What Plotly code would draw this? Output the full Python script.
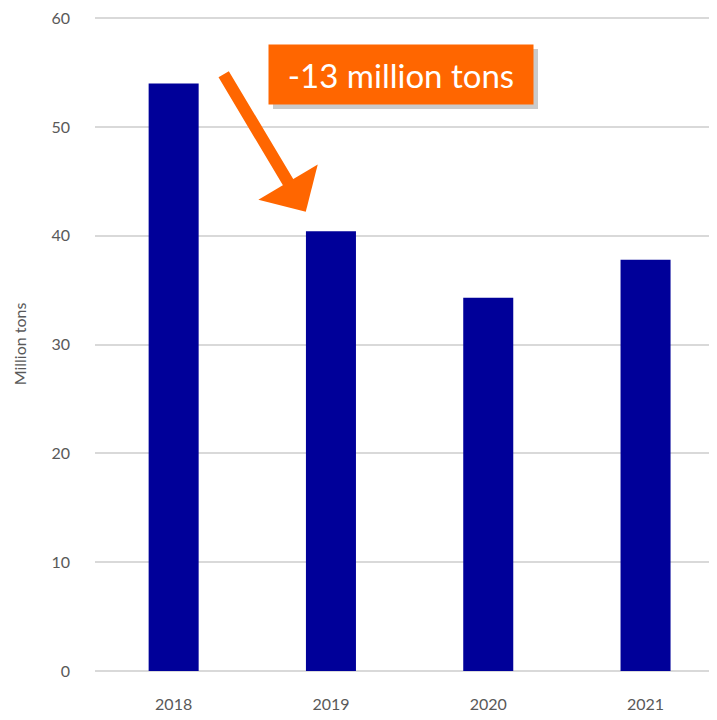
import plotly.graph_objects as go

years = ["2018", "2019", "2020", "2021"]
values = [54.0, 40.4, 34.3, 37.8]
y_ticks = [0, 10, 20, 30, 40, 50, 60]

OFF = 8  # page body margin in the browser
W, H = 717 - OFF, 720 - OFF
ML, MR, MT, MB = 95 - OFF, 0, 17 - OFF, 49
PW, PH = W - ML - MR, H - MT - MB
CAT_PX = 157.3
x_range = [-0.5, -0.5 + PW / CAT_PX]
Y_MAX = 60.1


def px_to_paper(px, py):
    px -= OFF
    py -= OFF
    return (px - ML) / PW, (H - MB - py) / PH


fig = go.Figure()
fig.add_trace(go.Bar(
    x=years, y=values, marker=dict(color="#000099", line=dict(width=0)),
    width=0.318,
))

# label box shadow
sx0, sy0 = px_to_paper(273, 49)
sx1, sy1 = px_to_paper(538, 109)
fig.add_shape(type="rect", xref="paper", yref="paper", x0=sx0, y0=sy0, x1=sx1, y1=sy1,
              fillcolor="rgba(150,150,150,0.5)", line=dict(width=0), layer="above")

bx, by = px_to_paper(401, 74.5)
fig.add_annotation(
    xref="paper", yref="paper", x=bx, y=by, xanchor="center", yanchor="middle",
    text="-13 million tons", showarrow=False, bgcolor="#FF6600",
    width=264, height=59, borderpad=0,
    font=dict(family="Lato, Noto Sans, sans-serif", size=33, color="white"),
)

# arrow
fig.add_annotation(
    x=0.84, y=42.2, xref="x", yref="y", text="", showarrow=True,
    ax=-83, ay=-139, arrowcolor="#FF6600", arrowwidth=12, arrowhead=1,
    arrowsize=0.96, standoff=0,
)

fig.update_layout(
    width=W, height=H, margin=dict(l=ML, r=MR, t=MT, b=MB),
    paper_bgcolor="white", plot_bgcolor="white", showlegend=False,
    font=dict(family="Lato, Noto Sans, sans-serif", color="#595959"),
)
fig.update_xaxes(range=x_range, type="category", showgrid=False, showline=False,
                 ticks="", tickfont=dict(size=16, color="#595959"), ticklabelstandoff=22)
fig.update_yaxes(range=[0, Y_MAX], tickvals=y_ticks, showgrid=True, gridcolor="#D9D9D9",
                 gridwidth=2, zeroline=True, zerolinecolor="#D9D9D9", zerolinewidth=2,
                 showline=False, tickfont=dict(size=16, color="#595959"), ticklabelstandoff=24,
                 ticklabeloverflow="allow",
                 title=dict(text="Million tons", font=dict(size=16, color="#595959"), standoff=20))

fig.write_html("out.html")
